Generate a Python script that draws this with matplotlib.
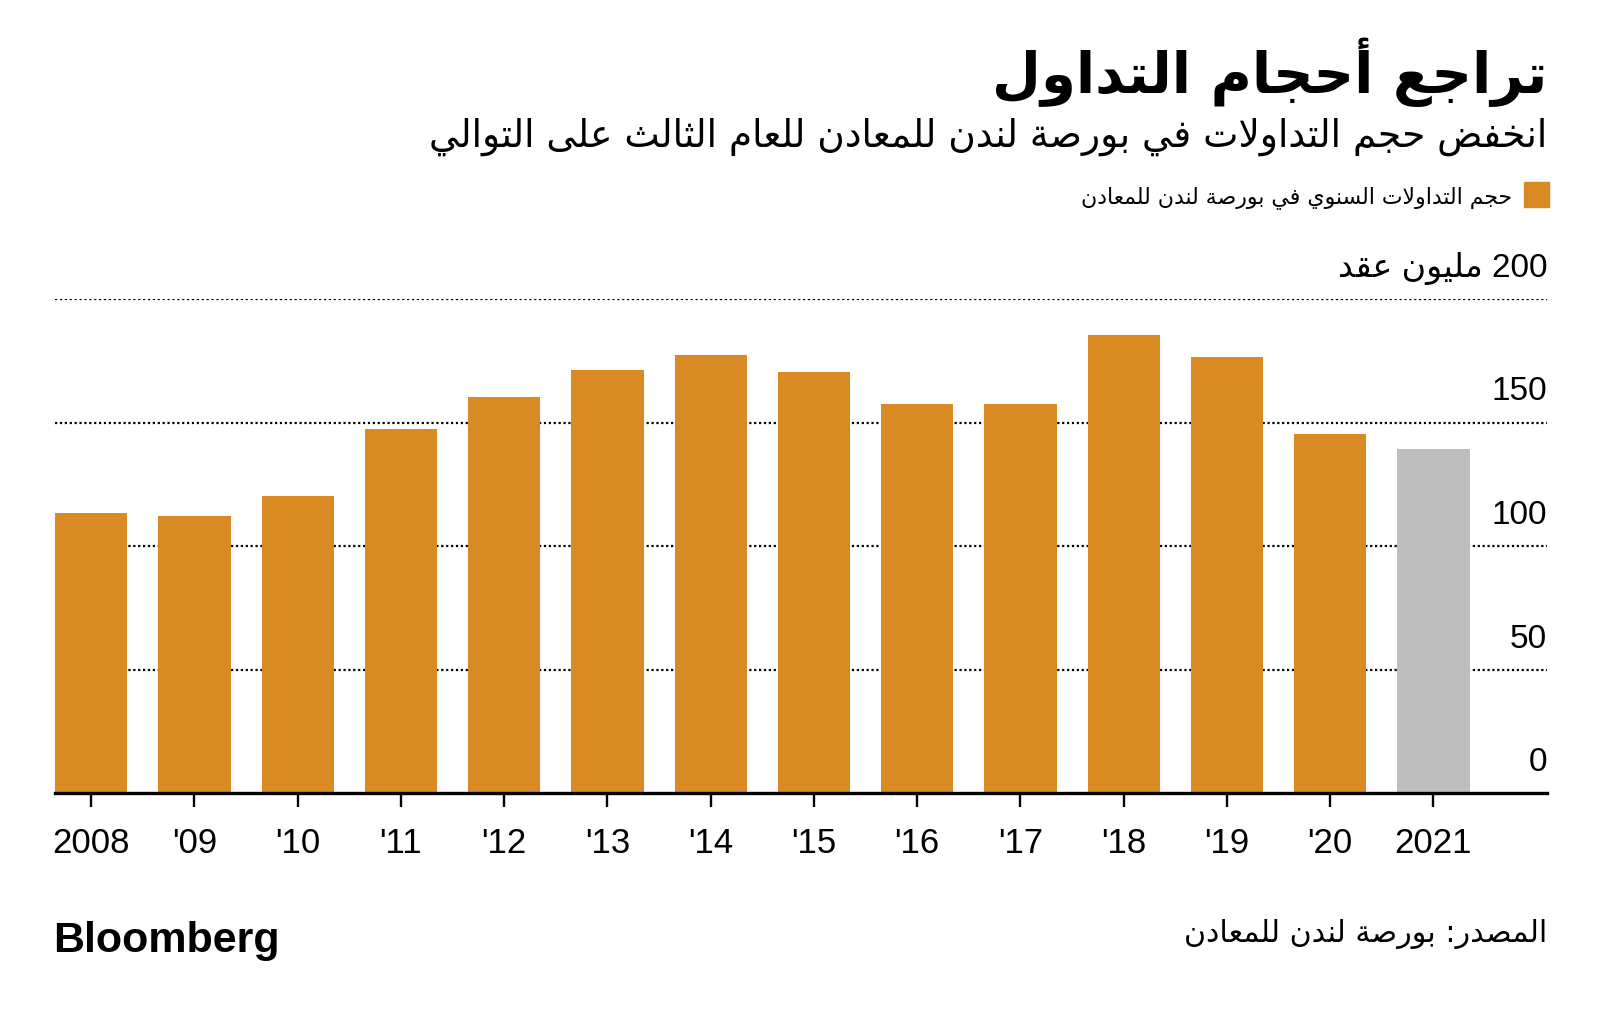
import matplotlib
matplotlib.use("Agg")
import matplotlib.pyplot as plt
from matplotlib.patches import Rectangle
import matplotlib.transforms as mtransforms

# data (million contracts)
years = ['2008', "'09", "'10", "'11", "'12", "'13", "'14", "'15", "'16", "'17", "'18", "'19", "'20", '2021']
volumes = [113.3, 112.2, 120.2, 147.5, 160.3, 171.1, 177.3, 170.3, 157.5, 157.5, 185.3, 176.5, 145.5, 139.3]
ytick_vals = [0, 50, 100, 150, 200]

title = 'تراجع أحجام التداول'
subtitle = 'انخفض حجم التداولات في بورصة لندن للمعادن للعام الثالث على التوالي'
legend_label = 'حجم التداولات السنوي في بورصة لندن للمعادن'
unit_label = 'مليون عقد'
source = 'المصدر: بورصة لندن للمعادن'

ORANGE = '#DA8A23'
GREY = '#BEBEBE'

# matplotlib does no arabic shaping, so map letters to presentation forms
# (start codepoint, number of forms: 4 = joins both sides, 2 = joins right only)
FORMS = {
    'ا': (0xFE8D, 2), 'أ': (0xFE83, 2), 'ب': (0xFE8F, 4), 'ة': (0xFE93, 2),
    'ت': (0xFE95, 4), 'ث': (0xFE99, 4), 'ج': (0xFE9D, 4), 'ح': (0xFEA1, 4),
    'خ': (0xFEA5, 4), 'د': (0xFEA9, 2), 'ذ': (0xFEAB, 2), 'ر': (0xFEAD, 2),
    'ز': (0xFEAF, 2), 'س': (0xFEB1, 4), 'ش': (0xFEB5, 4), 'ص': (0xFEB9, 4),
    'ض': (0xFEBD, 4), 'ط': (0xFEC1, 4), 'ظ': (0xFEC5, 4), 'ع': (0xFEC9, 4),
    'غ': (0xFECD, 4), 'ف': (0xFED1, 4), 'ق': (0xFED5, 4), 'ك': (0xFED9, 4),
    'ل': (0xFEDD, 4), 'م': (0xFEE1, 4), 'ن': (0xFEE5, 4), 'ه': (0xFEE9, 4),
    'و': (0xFEED, 2), 'ى': (0xFEEF, 2), 'ي': (0xFEF1, 4),
}
LAM_ALEF = {'ا': 0xFEFB, 'أ': 0xFEF7}


def shape(s):
    out = []
    i = 0
    while i < len(s):
        c = s[i]
        if c not in FORMS:
            out.append(c)
            i += 1
            continue
        prev = s[i - 1] if i > 0 else None
        joins_prev = prev in FORMS and FORMS[prev][1] == 4
        if c == 'ل' and i + 1 < len(s) and s[i + 1] in LAM_ALEF:
            out.append(chr(LAM_ALEF[s[i + 1]] + (1 if joins_prev else 0)))
            i += 2
            continue
        nxt = s[i + 1] if i + 1 < len(s) else None
        joins_next = FORMS[c][1] == 4 and nxt in FORMS
        if joins_prev and joins_next:
            form = 3
        elif joins_prev:
            form = 1
        elif joins_next:
            form = 2
        else:
            form = 0
        out.append(chr(FORMS[c][0] + form))
        i += 1
    return ''.join(out)


def rtl(s):
    return shape(s)[::-1]


W, H = 1600, 1017
fig = plt.figure(figsize=(16, 10.17), dpi=100)

def fx(px):
    return px / W

def fy(py):
    return 1 - py / H

NUM_FONT = ['Liberation Sans', 'DejaVu Sans']

ax = fig.add_axes([fx(55), fy(793.3), fx(1547) - fx(55), fy(299) - fy(793.3)])

x = list(range(len(years)))
colors = [ORANGE] * (len(years) - 1) + [GREY]
ax.bar(x, volumes, width=0.7, color=colors, zorder=2)

ax.set_xlim(-0.35, 14.1)
ax.set_ylim(0, 200)

# dotted gridlines
for v in ytick_vals[1:]:
    ax.axhline(v, color='black', lw=1.6, linestyle=(0, (1.0, 1.2)), zorder=1)

for side in ['top', 'left', 'right']:
    ax.spines[side].set_visible(False)
ax.spines['bottom'].set_linewidth(2.4)
ax.spines['bottom'].set_zorder(3)

ax.set_yticks([])
ax.set_xticks(x)
ax.set_xticklabels(years, fontsize=25, family=NUM_FONT)
ax.tick_params(axis='x', length=10, width=1.7, pad=14, color='black')

# y labels sit on top of the gridlines, right aligned
offset = mtransforms.ScaledTranslation(0, 16 / 72, fig.dpi_scale_trans)
trans = mtransforms.blended_transform_factory(ax.transAxes, ax.transData) + offset
for v in ytick_vals:
    lab = str(v)
    if v == 200:
        lab = rtl(unit_label) + ' ' + lab
    ax.text(1.0, v, lab, transform=trans, ha='right', va='baseline',
            fontsize=24, family=NUM_FONT)

# titles
fig.text(fx(1547), fy(93), rtl(title), ha='right', va='baseline', fontsize=40.5,
         fontweight='bold', family='DejaVu Sans')
fig.text(fx(1547), fy(147), rtl(subtitle), ha='right', va='baseline', fontsize=27,
         family='DejaVu Sans')

# legend
fig.patches.append(Rectangle((fx(1524), fy(207)), fx(25), fy(182) - fy(207),
                             transform=fig.transFigure, color=ORANGE, figure=fig))
fig.text(fx(1512), fy(203), rtl(legend_label), ha='right', va='baseline', fontsize=15.8,
         family='DejaVu Sans')

# footer
fig.text(fx(53), fy(952), 'Bloomberg', ha='left', va='baseline', fontsize=31,
         fontweight='bold', family=NUM_FONT)
fig.text(fx(1547), fy(942), rtl(source), ha='right', va='baseline', fontsize=21.7,
         family='DejaVu Sans')

fig.savefig('out.png', dpi=100, facecolor='white')
